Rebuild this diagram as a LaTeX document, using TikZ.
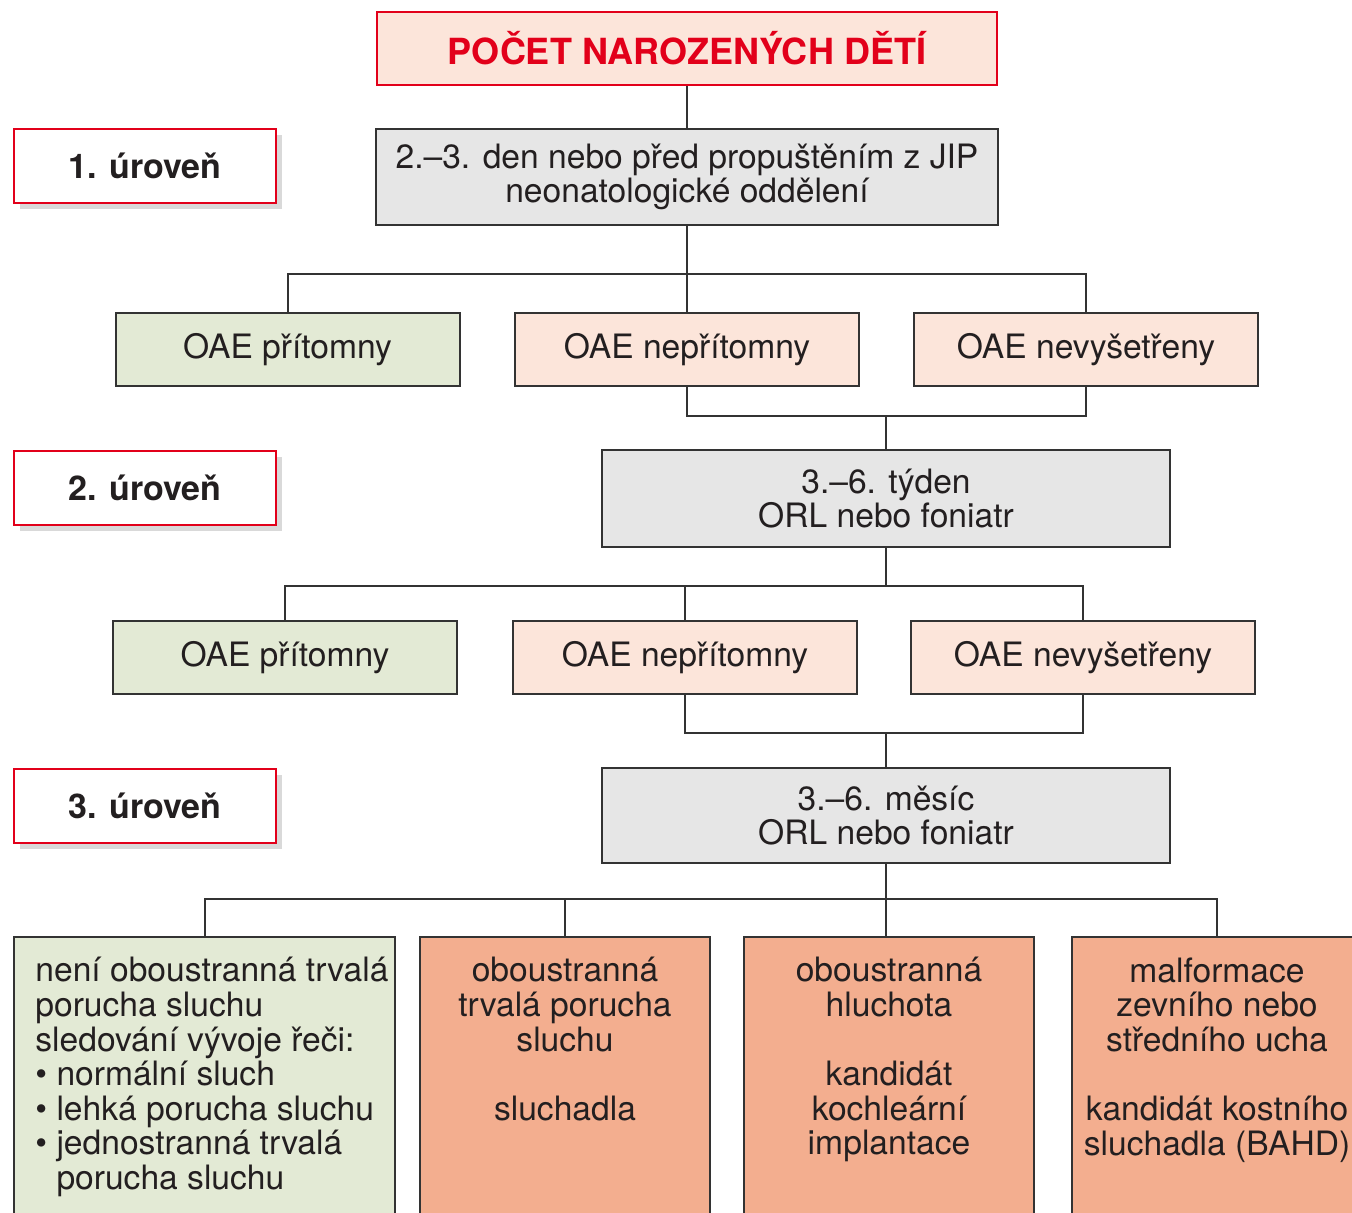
\documentclass[tikz,border=0pt]{standalone}
\usepackage{fontspec}
\setmainfont{TeX Gyre Heros}
\usetikzlibrary{shadows}
\definecolor{levelred}{HTML}{E2001A}
\definecolor{pinkfill}{HTML}{FCE5DA}
\definecolor{grayfill}{HTML}{E6E6E6}
\definecolor{greenfill}{HTML}{E3EAD5}
\definecolor{salmonfill}{HTML}{F3AE8F}
\definecolor{edgegray}{HTML}{333333}
\definecolor{inkblack}{HTML}{231F20}

\begin{document}
\begin{tikzpicture}
[
  x=0.5pt, y=-0.5pt,
  every node/.style={font=\fontsize{16.8}{17.3}\selectfont, text=inkblack, inner sep=0pt, align=center},
  box/.style={draw=edgegray, line width=1pt, minimum height=36.5pt},
  oaebox/.style={box, minimum width=172pt},
  infobox/.style={box, fill=grayfill},
  levelbox/.style={draw=levelred, line width=1pt, fill=white, minimum width=131pt, minimum height=37pt,
    font=\fontsize{17}{17}\selectfont\bfseries,
    drop shadow={shadow xshift=3pt, shadow yshift=-3pt, fill=black, opacity=0.15}},
  endbox/.style={box, minimum width=145pt, minimum height=150pt},
  link/.style={draw=edgegray, line width=1pt},
]
\useasboundingbox (0,0) rectangle (1352,1212);
\clip (0,0) rectangle (1352,1212);

\node[box, draw=levelred, fill=pinkfill, minimum width=310pt, text=levelred,
  font=\fontsize{18}{18}\selectfont\bfseries] (pocet) at (687,48.5) {POČET NAROZENÝCH DĚTÍ};

\node[levelbox] (lvl1) at (145,166) {1. úroveň};
\node[levelbox] (lvl2) at (145,488) {2. úroveň};
\node[levelbox] (lvl3) at (145,806) {3. úroveň};

\node[infobox, minimum width=311pt, minimum height=48pt] (den) at (687,177)
  {2.–3. den nebo před propuštěním z JIP\\neonatologické oddělení};

\node[oaebox, fill=greenfill] (r1a) at (287.5,349.5) {OAE přítomny};
\node[oaebox, fill=pinkfill] (r1b) at (687,349.5) {OAE nepřítomny};
\node[oaebox, fill=pinkfill] (r1c) at (1086,349.5) {OAE nevyšetřeny};

\node[infobox, minimum width=284pt, minimum height=48.5pt] (tyden) at (886,498.5)
  {3.–6. týden\\ORL nebo foniatr};

\node[oaebox, fill=greenfill] (r2a) at (285,657.5) {OAE přítomny};
\node[oaebox, fill=pinkfill] (r2b) at (685,657.5) {OAE nepřítomny};
\node[oaebox, fill=pinkfill] (r2c) at (1083,657.5) {OAE nevyšetřeny};

\node[infobox, minimum width=284pt, minimum height=47.5pt] (mesic) at (886,815.5)
  {3.–6. měsíc\\ORL nebo foniatr};

\node[endbox, fill=greenfill, minimum width=190.5pt] (b1) at (204.5,1087) {};
\node[endbox, fill=salmonfill] (b2) at (565,1087) {};
\node[endbox, fill=salmonfill] (b3) at (889,1087) {};
\node[endbox, fill=salmonfill] (b4) at (1217,1087) {};

\node[anchor=north west, align=left] (b1t) at (35,957)
  {není oboustranná trvalá\\porucha sluchu\\sledování vývoje řeči:\\
   \textbullet\ normální sluch\\\textbullet\ lehká porucha sluchu\\
   \textbullet\ jednostranná trvalá\\\phantom{\textbullet\ }porucha sluchu};
\node[anchor=north] (b2t) at (565,957)
  {oboustranná\\trvalá porucha\\sluchu\\[17.3pt]sluchadla};
\node[anchor=north] (b3t) at (889,957)
  {oboustranná\\hluchota\\[17.3pt]kandidát\\kochleární\\implantace};
\node[anchor=north] (b4t) at (1217,957)
  {malformace\\zevního nebo\\středního ucha\\[17.3pt]kandidát kostního\\sluchadla (BAHD)};

\coordinate (j1) at (687,274);
\coordinate (j2) at (886,416);
\coordinate (j3) at (886,586);
\coordinate (j4) at (886,733);
\coordinate (j5) at (886,899);

\draw[link] (pocet) -- (den);
\draw[link] (den) -- (j1);
\draw[link] (r1a) |- (j1) -| (r1c);
\draw[link] (j1) -- (r1b);

\draw[link] (r1b) |- (j2) -| (r1c);
\draw[link] (j2) -- (tyden);

\draw[link] (tyden) -- (j3);
\draw[link] (r2a) |- (j3) -| (r2c);
\draw[link] (r2b) |- (j3);

\draw[link] (r2b) |- (j4) -| (r2c);
\draw[link] (j4) -- (mesic);

\draw[link] (mesic) -- (j5);
\draw[link] (b1) |- (j5) -| (b4);
\draw[link] (b2) |- (j5);
\draw[link] (j5) -- (j5 |- b3.north);

\end{tikzpicture}
\end{document}
